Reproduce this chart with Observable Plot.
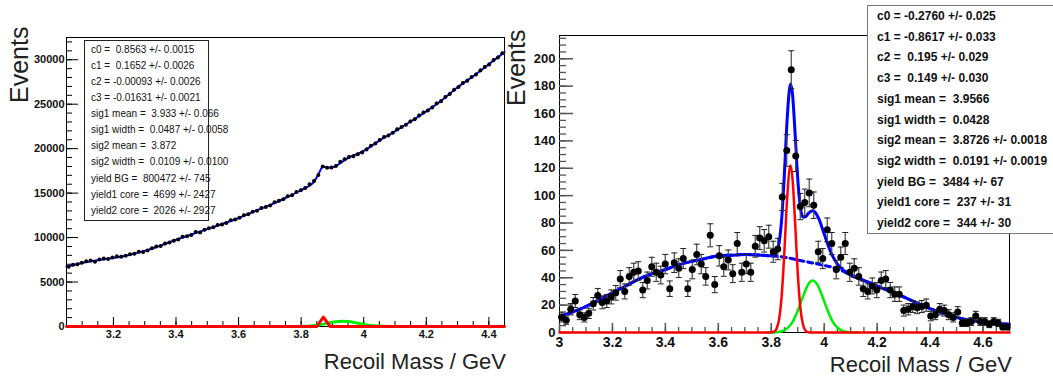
<!DOCTYPE html>
<html>
<head>
<meta charset="utf-8">
<script src="https://cdn.jsdelivr.net/npm/d3@7"></script>
<script src="https://cdn.jsdelivr.net/npm/@observablehq/plot@0.6"></script>
<style>
  html, body { margin: 0; padding: 0; background: #fff; }
  #wrap { position: relative; width: 1053px; height: 376px; overflow: hidden; background: #fff; }
  .panel { position: absolute; top: 0; }
  .stats { position: absolute; background: #fff; white-space: pre; box-sizing: border-box; }
  #statsL { left: 84px; top: 40px; width: 125px; height: 181px; border: 1px solid #222;
            font: 10px "Liberation Sans Narrow", "Liberation Sans", Arial, sans-serif; line-height: 16.07px;
            padding: 1px 0 0 6px; color: #111; }
  #statsR { left: 867px; top: 5px; width: 220px; height: 229px; border: 1px solid #777;
            font: bold 12px "Liberation Sans", Arial, sans-serif; line-height: 20.7px;
            padding: 0 0 0 9px; color: #111; }
  .ytitle { position: absolute; transform-origin: 0 0; transform: rotate(-90deg);
            font: 25px "Liberation Sans", Arial, sans-serif; line-height: 25px; color: #222; white-space: nowrap; }
  .xtitle { position: absolute; font: 22px "Liberation Sans", Arial, sans-serif; line-height: 22px;
            color: #222; white-space: nowrap; text-align: right; }
</style>
</head>
<body>
<div id="wrap"></div>
<script>
// ---------------- LEFT PANEL DATA ----------------
const leftBinStart = 3.05, leftBinWidth = 0.014;
const leftCounts = [
  6720, 6950, 7010, 7180, 7330, 7420, 7290, 7530, 7660, 7580,
  7750, 7890, 7850, 7960, 8120, 8180, 8420, 8390, 8560, 8800,
  9010, 9060, 9330, 9450, 9640, 9790, 10080, 10150, 10290, 10620,
  10580, 10870, 11050, 11160, 11420, 11480, 11650, 11940, 12020, 12230,
  12520, 12610, 12900, 13010, 13340, 13450, 13600, 13980, 14150, 14300,
  14640, 14760, 15120, 15310, 15580, 15990, 16350, 17050, 17980, 17850,
  17880, 18060, 18520, 18800, 19050, 19150, 19380, 19560, 19900, 20330,
  20580, 20960, 21300, 21480, 21790, 22180, 22430, 22690, 23060, 23300,
  23720, 24060, 24280, 24640, 25090, 25330, 25800, 26140, 26620, 26920,
  27380, 27650, 28060, 28330, 28800, 29180, 29470, 29960, 30250, 30720
];
const leftFitMass  = [3.05, 3.10, 3.15, 3.20, 3.25, 3.30, 3.35, 3.40, 3.45, 3.50, 3.55, 3.60, 3.65, 3.70, 3.75, 3.80, 3.84, 3.855, 3.87, 3.885, 3.90, 3.95, 4.00, 4.05, 4.10, 4.15, 4.20, 4.25, 4.30, 4.35, 4.40, 4.45];
const leftFitValue = [6750, 7150, 7450, 7700, 8050, 8500, 9100, 9750, 10350, 10950, 11550, 12200, 12950, 13650, 14450, 15350, 16200, 17100, 18000, 17850, 17900, 18950, 19750, 20900, 21950, 23050, 24200, 25450, 26900, 28150, 29500, 30850];
const leftSig1Mass  = [3.78, 3.80, 3.83, 3.86, 3.89, 3.91, 3.933, 3.95, 3.97, 4.00, 4.03, 4.06, 4.09, 4.12];
const leftSig1Value = [4, 14, 64, 195, 406, 537, 600, 564, 450, 233, 83, 20, 3, 0];
const leftSig2Mass  = [3.05, 3.85, 3.871, 3.893, 4.45];
const leftSig2Value = [0, 0, 1050, 0, 0];
const leftXTicks = [3.2, 3.4, 3.6, 3.8, 4, 4.2, 4.4];
const leftYTicks = [0, 5000, 10000, 15000, 20000, 25000, 30000];
const leftStats = [
  "c0 =  0.8563 +/- 0.0015",
  "c1 =  0.1652 +/- 0.0026",
  "c2 = -0.00093 +/- 0.0026",
  "c3 = -0.01631 +/- 0.0021",
  "sig1 mean =  3.933 +/- 0.066",
  "sig1 width =  0.0487 +/- 0.0058",
  "sig2 mean =  3.872",
  "sig2 width =  0.0109 +/- 0.0100",
  "yield BG =  800472 +/- 745",
  "yield1 core =  4699 +/- 2427",
  "yield2 core =  2026 +/- 2927"
];

// ---------------- RIGHT PANEL DATA ----------------
const rightBinStart = 3.0, rightBinWidth = 0.017;
const rightCounts = [
  11, 9, 17, 23, 13, 11, 14, 21, 27, 22,
  23, 26, 29, 39, 30, 41, 44, 45, 31, 38,
  48, 44, 42, 50, 32, 51, 47, 54, 32, 46,
  57, 50, 41, 71, 35, 56, 48, 53, 43, 65,
  44, 50, 44, 63, 69, 67, 70, 59, 61, 99,
  133, 192, 129, 92, 95, 102, 93, 59, 54, 75,
  65, 46, 55, 65, 44, 47, 41, 32, 30, 34,
  31, 38, 39, 31, 28, 28, 16, 17, 19, 18,
  19, 20, 12, 13, 17, 16, 13, 11, 15, 7,
  7, 8, 12, 8, 8, 6, 8, 7, 4, 4
];
const rightBgMass  = [3.00, 3.05, 3.10, 3.15, 3.20, 3.25, 3.30, 3.35, 3.40, 3.45, 3.50, 3.55, 3.60, 3.65, 3.70, 3.75, 3.80, 3.85, 3.90, 3.95, 4.00, 4.05, 4.10, 4.15, 4.20, 4.25, 4.30, 4.35, 4.40, 4.45, 4.50, 4.55, 4.60, 4.65, 4.70];
const rightBgValue = [11.5, 15, 19, 24, 29, 34, 39, 43, 46, 49.5, 52, 54, 56, 56.5, 57, 56.7, 56, 55, 53, 51, 49, 46.5, 42, 38, 34, 30, 26, 21.5, 17.5, 14, 11, 9, 7.5, 6.5, 6];
const rightTotalMass  = [3.00, 3.05, 3.10, 3.15, 3.20, 3.25, 3.30, 3.35, 3.40, 3.45, 3.50, 3.55, 3.60, 3.65, 3.70, 3.75, 3.80,
  3.81, 3.82, 3.83, 3.84, 3.85, 3.86, 3.8726, 3.88, 3.89, 3.90, 3.91, 3.92, 3.93, 3.94, 3.9566, 3.97, 3.98, 3.99, 4.00,
  4.01, 4.02, 4.03, 4.04, 4.05, 4.07, 4.09, 4.10, 4.15, 4.20, 4.25, 4.30, 4.35, 4.40, 4.45, 4.50, 4.55, 4.60, 4.65, 4.70];
const rightTotalValue = [11.5, 15, 19, 24, 29, 34, 39, 43, 46, 49.5, 52, 54, 56, 56.5, 57, 56.7, 56,
  56.5, 58.6, 66, 84.5, 117.3, 155.7, 181.5, 174.6, 145.5, 112.5, 91.5, 84.2, 84.6, 87, 88.9, 86.7, 83, 77.7, 71.9,
  66.3, 61, 56.5, 53, 50, 45.9, 43.3, 42, 38, 34, 30, 26, 21.5, 17.5, 14, 11, 9, 7.5, 6.5, 6];
const rightSig2Mass  = [3.00, 3.79, 3.80, 3.81, 3.82, 3.83, 3.84, 3.85, 3.86, 3.8726, 3.88, 3.89, 3.90, 3.91, 3.92, 3.93, 3.94, 3.95, 3.96, 4.70];
const rightSig2Value = [0, 0, 0.1, 0.6, 2.8, 10.1, 28.4, 60.6, 98.1, 122, 113, 80.6, 43.6, 17.9, 5.6, 1.3, 0.2, 0, 0, 0];
const rightSig1Mass  = [3.78, 3.80, 3.82, 3.84, 3.86, 3.88, 3.90, 3.92, 3.94, 3.9566, 3.97, 3.99, 4.01, 4.03, 4.05, 4.07, 4.09, 4.11, 4.13];
const rightSig1Value = [0, 0.05, 0.23, 0.93, 3.0, 7.6, 15.9, 26.4, 35.3, 38, 36.2, 28, 17.5, 8.7, 3.5, 1.1, 0.3, 0.06, 0];
const rightXTicks = [3, 3.2, 3.4, 3.6, 3.8, 4, 4.2, 4.4, 4.6];
const rightYTicks = [0, 20, 40, 60, 80, 100, 120, 140, 160, 180, 200];
const rightStats = [
  "c0 = -0.2760 +/- 0.025",
  "c1 = -0.8617 +/- 0.033",
  "c2 =  0.195 +/- 0.029",
  "c3 =  0.149 +/- 0.030",
  "sig1 mean =  3.9566",
  "sig1 width =  0.0428",
  "sig2 mean =  3.8726 +/- 0.0018",
  "sig2 width =  0.0191 +/- 0.0019",
  "yield BG =  3484 +/- 67",
  "yield1 core =  237 +/- 31",
  "yield2 core =  344 +/- 30"
];

const xTitle = "Recoil Mass / GeV";
const yTitle = "Events";

// ---------------- BUILD TABLES ----------------
const pairs = (xs, ys) => xs.map((x, i) => ({x, y: ys[i]}));
const leftData  = leftCounts.map((n, i) => ({x: leftBinStart + leftBinWidth * (i + 0.5), n}));
const rightData = rightCounts.map((n, i) => ({x: rightBinStart + rightBinWidth * (i + 0.5), n}));
const fmt = d => String(d);
const capSymbol = {draw(ctx) { ctx.moveTo(-3, 0); ctx.lineTo(3, 0); }};

// inward tick marks: rules spanning the frame, inset so only `size` pixels remain at the axis edge
const yTicksIn = (ticks, size, frameW, stroke, sw) =>
  Plot.ruleY(ticks, {y: d => d, insetRight: frameW - size, stroke, strokeWidth: sw});
const xTicksIn = (ticks, size, frameH, stroke, sw) =>
  Plot.ruleX(ticks, {x: d => d, insetTop: frameH - size, stroke, strokeWidth: sw});

const wrap = document.getElementById("wrap");

// ---------------- LEFT PLOT ----------------
const LW = 520, LH = 376, LML = 66, LMR = 16, LMT = 37, LMB = 50;
const LFW = LW - LML - LMR, LFH = LH - LMT - LMB;
const left = Plot.plot({
  width: LW, height: LH,
  marginLeft: LML, marginRight: LMR, marginTop: LMT, marginBottom: LMB,
  x: {domain: [3.05, 4.45]},
  y: {domain: [0, 32500]},
  style: {background: "transparent", fontFamily: "'Liberation Sans Narrow','Liberation Sans',Arial,sans-serif", overflow: "visible"},
  marks: [
    Plot.frame({stroke: "#000", strokeWidth: 1}),
    yTicksIn(d3.range(0, 32501, 1000), 6, LFW, "#000", 1),
    yTicksIn(leftYTicks, 12, LFW, "#000", 1),
    xTicksIn(d3.range(3.05, 4.4501, 0.05), 5, LFH, "#000", 1),
    xTicksIn(leftXTicks, 9, LFH, "#000", 1),
    Plot.line(pairs(leftSig1Mass, leftSig1Value), {x: "x", y: "y", stroke: "#00ee00", strokeWidth: 3, curve: "monotone-x"}),
    Plot.line(pairs(leftSig2Mass, leftSig2Value), {x: "x", y: "y", stroke: "#ff0000", strokeWidth: 3, curve: "linear"}),
    Plot.line(pairs(leftFitMass, leftFitValue), {x: "x", y: "y", stroke: "#0000ff", strokeWidth: 2, curve: "monotone-x"}),
    Plot.ruleX(leftData, {x: "x", y1: d => d.n - Math.sqrt(d.n), y2: d => d.n + Math.sqrt(d.n), stroke: "#000", strokeWidth: 1}),
    Plot.dot(leftData, {x: "x", y: "n", r: 2, fill: "#000"}),
    Plot.axisY(leftYTicks, {anchor: "left", tickSize: 0, tickPadding: 2, tickFormat: fmt, label: null,
      fontSize: 11, fontWeight: "bold", fill: "#111"}),
    Plot.axisX(leftXTicks, {anchor: "bottom", tickSize: 0, tickPadding: 4, tickFormat: fmt, label: null,
      fontSize: 11, fontWeight: "bold", fill: "#111"})
  ]
});
left.classList.add("panel");
left.style.left = "0px";
wrap.appendChild(left);

// ---------------- RIGHT PLOT ----------------
const RW = 533, RH = 376, RML = 39, RMR = 44, RMT = 35, RMB = 44;
const RFW = RW - RML - RMR, RFH = RH - RMT - RMB;
const right = Plot.plot({
  width: RW, height: RH,
  marginLeft: RML, marginRight: RMR, marginTop: RMT, marginBottom: RMB,
  x: {domain: [3.0, 4.7]},
  y: {domain: [0, 217]},
  style: {background: "transparent", fontFamily: "'Liberation Sans',Arial,sans-serif", overflow: "visible"},
  marks: [
    Plot.frame({stroke: "#000", strokeWidth: 1}),
    yTicksIn(d3.range(0, 217, 5), 7, RFW, "#555", 1.3),
    yTicksIn(rightYTicks, 14, RFW, "#555", 1.5),
    xTicksIn(d3.range(3.0, 4.7001, 0.05), 5, RFH, "#555", 1.3),
    xTicksIn(rightXTicks, 9, RFH, "#555", 1.5),
    Plot.line(pairs(rightBgMass, rightBgValue), {x: "x", y: "y", stroke: "#0000ff", strokeWidth: 3, strokeDasharray: "5,4", curve: "natural"}),
    Plot.line(pairs(rightSig1Mass, rightSig1Value), {x: "x", y: "y", stroke: "#00ee00", strokeWidth: 2.5, curve: "monotone-x"}),
    Plot.line(pairs(rightSig2Mass, rightSig2Value), {x: "x", y: "y", stroke: "#ff0000", strokeWidth: 2.5, curve: "monotone-x"}),
    Plot.line(pairs(rightTotalMass, rightTotalValue), {x: "x", y: "y", stroke: "#0000ff", strokeWidth: 3, curve: "monotone-x"}),
    Plot.ruleX(rightData, {x: "x", y1: d => d.n - Math.sqrt(d.n), y2: d => d.n + Math.sqrt(d.n), stroke: "#444", strokeWidth: 1.2}),
    Plot.dot(rightData, {x: "x", y: d => d.n - Math.sqrt(d.n), symbol: capSymbol, stroke: "#222", strokeWidth: 1, r: 3}),
    Plot.dot(rightData, {x: "x", y: d => d.n + Math.sqrt(d.n), symbol: capSymbol, stroke: "#222", strokeWidth: 1, r: 3}),
    Plot.dot(rightData, {x: "x", y: "n", r: 3.5, fill: "#000"}),
    Plot.axisY(rightYTicks, {anchor: "left", tickSize: 0, tickPadding: 4, tickFormat: fmt, label: null,
      fontSize: 13, fontWeight: "bold", fill: "#111"}),
    Plot.axisX(rightXTicks, {anchor: "bottom", tickSize: 0, tickPadding: 5, tickFormat: fmt, label: null,
      fontSize: 14, fontWeight: "bold", fill: "#111"})
  ]
});
right.classList.add("panel");
right.style.left = "520px";
wrap.appendChild(right);

// ---------------- STATS BOXES & TITLES ----------------
function addDiv(id, cls, text) {
  const d = document.createElement("div");
  if (id) d.id = id;
  d.className = cls;
  d.textContent = text;
  wrap.appendChild(d);
  return d;
}
addDiv("statsL", "stats", leftStats.join("\n"));
addDiv("statsR", "stats", rightStats.join("\n"));

const yl = addDiv(null, "ytitle", yTitle); yl.style.left = "7px";   yl.style.top = "103px";
const yr = addDiv(null, "ytitle", yTitle); yr.style.left = "504px"; yr.style.top = "106px";
const xl = addDiv(null, "xtitle", xTitle); xl.style.right = (1053 - 506) + "px"; xl.style.top = "351px";
const xr = addDiv(null, "xtitle", xTitle); xr.style.right = (1053 - 1012) + "px"; xr.style.top = "354px";
</script>
</body>
</html>
